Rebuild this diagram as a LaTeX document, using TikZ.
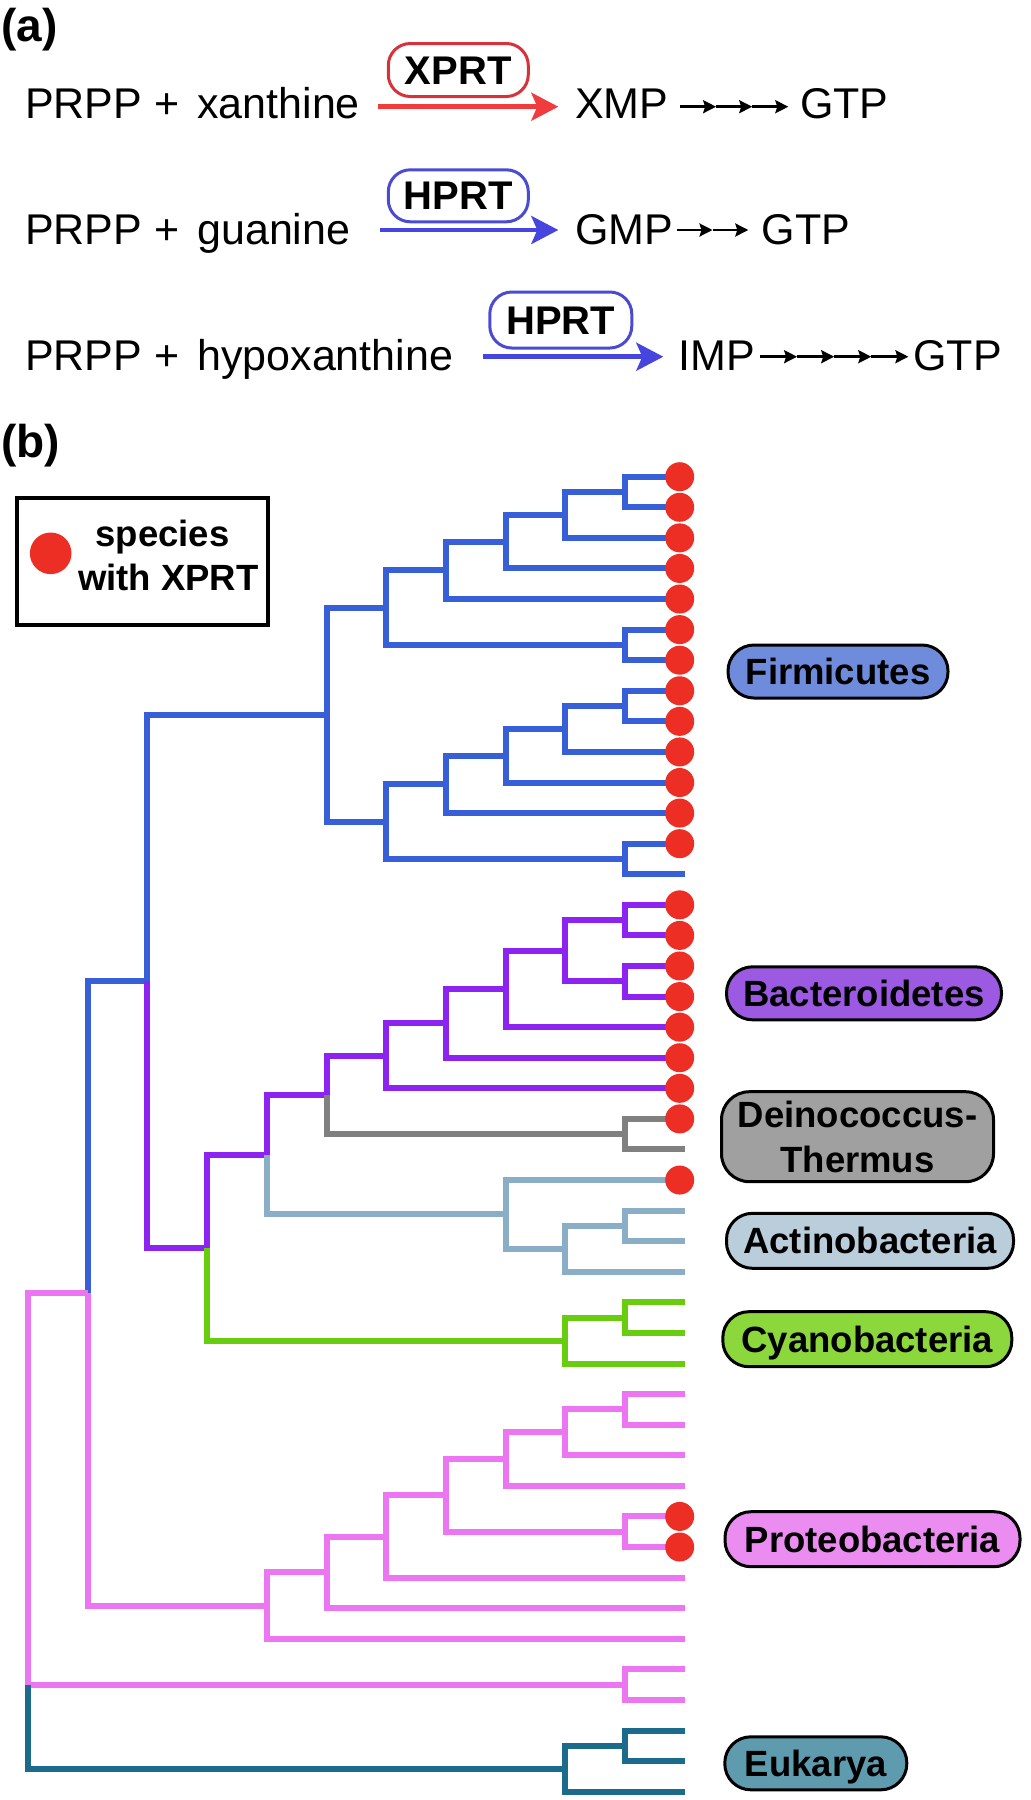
\documentclass[tikz,border=0pt]{standalone}
\usepackage{fontspec}
\setmainfont{Liberation Sans}
\usetikzlibrary{arrows.meta}
\definecolor{cfir}{RGB}{55,95,215}
\definecolor{cbac}{RGB}{140,35,240}
\definecolor{cdei}{RGB}{128,128,128}
\definecolor{cact}{RGB}{138,174,198}
\definecolor{ccya}{RGB}{105,205,15}
\definecolor{cpro}{RGB}{236,118,242}
\definecolor{ceuk}{RGB}{28,106,140}
\definecolor{ffir}{RGB}{111,140,220}
\definecolor{fbac}{RGB}{155,90,225}
\definecolor{fdei}{RGB}{160,160,160}
\definecolor{fact}{RGB}{185,205,218}
\definecolor{fcya}{RGB}{140,215,60}
\definecolor{fpro}{RGB}{235,140,240}
\definecolor{feuk}{RGB}{95,155,175}
\definecolor{dotred}{RGB}{236,46,36}
\definecolor{arred}{RGB}{240,60,60}
\definecolor{arblue}{RGB}{70,70,222}
\definecolor{boxred}{RGB}{215,50,60}
\definecolor{boxblue}{RGB}{75,75,210}
\begin{document}
\begin{tikzpicture}[x=1pt,y=-1pt,
  eqtext/.style={inner sep=0pt, anchor=base west, font=\fontsize{43}{50}\selectfont},
  panel/.style={inner sep=0pt, anchor=base west, font=\fontsize{46}{50}\selectfont\bfseries},
  enz/.style={draw, line width=3pt, rounded corners=22pt, minimum width=140pt, minimum height=53pt, inner sep=0pt, text height=28pt, text depth=0pt, font=\fontsize{40}{46}\selectfont\bfseries},
  bigarr/.style={line width=4.5pt, -{Stealth[length=27pt,width=28pt,inset=6pt]}},
  smallarr/.style={line width=2.5pt, -{Stealth[length=13pt,width=13pt,inset=2pt]}},
  branch/.style={line width=6pt, line join=miter},
  leafdot/.style={circle, fill=dotred, minimum size=29pt, inner sep=0pt},
  cladebase/.style={draw=black, line width=3pt, rounded corners=26pt, inner sep=0pt, font=\fontsize{36.5}{45}\selectfont\bfseries},
  clade/.style={cladebase, text height=26pt, text depth=0pt},
  legtext/.style={inner sep=0pt, anchor=base, font=\fontsize{36.5}{45}\selectfont\bfseries}
]
\useasboundingbox (0,0) rectangle (1031,1800);

% ---------------- panel (a) ----------------
\node[panel] (pa) at (1,41) {(a)};
\node[eqtext] (r1) at (25,118.3) {PRPP +\hspace{6pt} xanthine};
\node[eqtext] (p1) at (575,118.3) {XMP};
\node[eqtext] (g1) at (800,118.3) {GTP};
\node[enz, draw=boxred] (e1) at (458.3,70) {XPRT};
\coordinate (a1s) at (378.3,106.7);
\coordinate (a1e) at (558.3,106.7);
\draw[bigarr, arred] (a1s) -- (a1e);
\foreach \i in {0,...,3} \coordinate (sa\i) at ({680+36.1*\i},106.7);
\foreach \i/\j in {0/1,1/2,2/3} \draw[smallarr] (sa\i) -- (sa\j);

\node[eqtext] (r2) at (25,244) {PRPP +\hspace{6pt} guanine};
\node[eqtext] (p2) at (575,244) {GMP};
\node[eqtext] (g2) at (761.7,244) {GTP};
\node[enz, draw=boxblue, minimum height=52pt] (e2) at (458.3,195.8) {HPRT};
\coordinate (a2s) at (380,230);
\coordinate (a2e) at (558.3,230);
\draw[bigarr, arblue] (a2s) -- (a2e);
\foreach \i in {0,...,2} \coordinate (sb\i) at ({676.7+35.8*\i},230);
\foreach \i/\j in {0/1,1/2} \draw[smallarr] (sb\i) -- (sb\j);

\node[eqtext] (r3) at (25,370) {PRPP +\hspace{6pt} hypoxanthine};
\node[eqtext] (p3) at (678.3,370) {IMP};
\node[eqtext] (g3) at (913.3,370) {GTP};
\node[enz, draw=boxblue, minimum width=142pt, minimum height=56pt] (e3) at (560.8,320) {HPRT};
\coordinate (a3s) at (483.3,356.7);
\coordinate (a3e) at (663.3,356.7);
\draw[bigarr, arblue] (a3s) -- (a3e);
\foreach \i in {0,...,4} \coordinate (sc\i) at ({760+37.1*\i},356.7);
\foreach \i/\j in {0/1,1/2,2/3,3/4} \draw[smallarr] (sc\i) -- (sc\j);

% ---------------- panel (b) ----------------
\node[panel] (pb) at (1,457) {(b)};
\node[draw, line width=4pt, minimum width=251.6pt, minimum height=126.7pt, inner sep=0pt] (legend) at (142.5,561.7) {};
\node[circle, fill=dotred, minimum size=41.6pt, inner sep=0pt] (legdot) at (50.7,553.3) {};
\node[legtext] (leg1) at (162.5,546.7) {species};
\node[legtext] (leg2) at (168.3,590) {with XPRT};

\begin{scope}[shift={(28pt,-476.7pt)}, x=59.7pt, y=-30.58pt]
  \foreach \i in {0,...,43} \coordinate (l\i) at (11,\i);
  \coordinate (nA) at (10,0.5);
  \coordinate (nB) at (9,1.25);
  \coordinate (nC) at (8,2.125);
  \coordinate (nD) at (7,3.0625);
  \coordinate (nF) at (10,5.5);
  \coordinate (nE) at (6,4.28125);
  \coordinate (nI) at (10,7.5);
  \coordinate (nJ) at (9,8.25);
  \coordinate (nK) at (8,9.125);
  \coordinate (nL) at (7,10.0625);
  \coordinate (nM) at (10,12.5);
  \coordinate (nH) at (6,11.28125);
  \coordinate (nG) at (5,7.78125);
  \coordinate (nY) at (10,14.5);
  \coordinate (nZ) at (10,16.5);
  \coordinate (nX) at (9,15.5);
  \coordinate (nW) at (8,16.75);
  \coordinate (nV) at (7,17.875);
  \coordinate (nU) at (6,18.9375);
  \coordinate (nT) at (10,21.5);
  \coordinate (nS) at (5,20.21875);
  \coordinate (nCC) at (10,24.5);
  \coordinate (nBB) at (9,25.25);
  \coordinate (nAA) at (8,24.125);
  \coordinate (nR) at (4,22.171875);
  \coordinate (nEE) at (10,27.5);
  \coordinate (nDD) at (9,28.25);
  \coordinate (nQ) at (3,25.2109375);
  \coordinate (nP) at (2,16.49609375);
  \coordinate (nNN) at (10,30.5);
  \coordinate (nMM) at (9,31.25);
  \coordinate (nKK) at (8,32.125);
  \coordinate (nLL) at (10,34.5);
  \coordinate (nJJ) at (7,33.3125);
  \coordinate (nII) at (6,34.65625);
  \coordinate (nHH) at (5,35.828125);
  \coordinate (nGG) at (4,36.9140625);
  \coordinate (nFF) at (1,26.705078);
  \coordinate (nPR) at (10,39.5);
  \coordinate (nPP) at (10,41.5);
  \coordinate (nOO) at (9,42.25);
  \coordinate (nRoot) at (0,39.5);
\end{scope}

% Firmicutes
\foreach \p/\c in {nA/l0,nA/l1,nB/nA,nB/l2,nC/nB,nC/l3,nD/nC,nD/l4,nF/l5,nF/l6,nE/nD,nE/nF,
  nI/l7,nI/l8,nJ/nI,nJ/l9,nK/nJ,nK/l10,nL/nK,nL/l11,nM/l12,nM/l13,nH/nL,nH/nM,nG/nE,nG/nH,nP/nG,nFF/nP}
  \draw[branch, cfir] (\p) |- (\c);
% Bacteroidetes
\foreach \p/\c in {nY/l14,nY/l15,nZ/l16,nZ/l17,nX/nY,nX/nZ,nW/nX,nW/l18,nV/nW,nV/l19,nU/nV,nU/l20,
  nS/nU,nR/nS,nQ/nR,nP/nQ}
  \draw[branch, cbac] (\p) |- (\c);
% Deinococcus-Thermus
\foreach \p/\c in {nT/l21,nT/l22,nS/nT}
  \draw[branch, cdei] (\p) |- (\c);
% Actinobacteria
\foreach \p/\c in {nCC/l24,nCC/l25,nBB/nCC,nBB/l26,nAA/l23,nAA/nBB,nR/nAA}
  \draw[branch, cact] (\p) |- (\c);
% Cyanobacteria
\foreach \p/\c in {nEE/l27,nEE/l28,nDD/nEE,nDD/l29,nQ/nDD}
  \draw[branch, ccya] (\p) |- (\c);
% Proteobacteria
\foreach \p/\c in {nNN/l30,nNN/l31,nMM/nNN,nMM/l32,nKK/nMM,nKK/l33,nLL/l34,nLL/l35,nJJ/nKK,nJJ/nLL,
  nII/nJJ,nII/l36,nHH/nII,nHH/l37,nGG/nHH,nGG/l38,nFF/nGG,nPR/l39,nPR/l40,nRoot/nFF,nRoot/nPR}
  \draw[branch, cpro] (\p) |- (\c);
% Eukarya
\foreach \p/\c in {nPP/l41,nPP/l42,nOO/nPP,nOO/l43,nRoot/nOO}
  \draw[branch, ceuk] (\p) |- (\c);

% red dots
\foreach \i in {0,1,2,3,4,5,6,7,8,9,10,11,12,14,15,16,17,18,19,20,21,23,34,35}
  \node[leafdot] (d\i) at ([xshift=-5pt]l\i) {};

% clade labels
\node[clade, fill=ffir, minimum width=220pt, minimum height=53pt] (lfir) at (838,671.5) {Firmicutes};
\node[clade, fill=fbac, minimum width=275pt, minimum height=53pt] (lbac) at (864,993.3) {Bacteroidetes};
\node[cladebase, fill=fdei, minimum width=272pt, minimum height=90pt, rounded corners=28pt, align=center] (ldei) at (857.5,1136.7) {Deinococcus-\\Thermus};
\node[clade, fill=fact, minimum width=287pt, minimum height=55pt] (lact) at (870,1240.8) {Actinobacteria};
\node[clade, fill=fcya, minimum width=289pt, minimum height=55pt] (lcya) at (867.3,1339.2) {Cyanobacteria};
\node[clade, fill=fpro, minimum width=295pt, minimum height=55pt] (lpro) at (872.5,1539.2) {Proteobacteria};
\node[clade, fill=feuk, minimum width=182pt, minimum height=53pt] (leuk) at (815.8,1763.3) {Eukarya};
\end{tikzpicture}
\end{document}
